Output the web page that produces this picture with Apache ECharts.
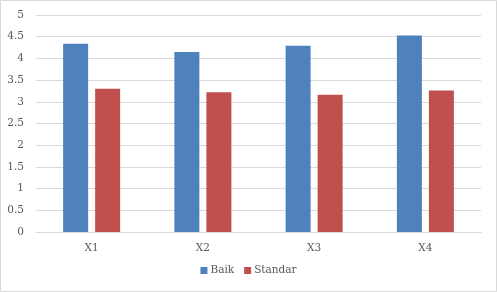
<!DOCTYPE html>
<html><head><meta charset="utf-8">
<script src="https://cdn.jsdelivr.net/npm/echarts@6/dist/echarts.min.js"></script>
<style>html,body{margin:0;padding:0;background:#fff}#c{width:497px;height:292px}</style>
</head><body><div id="c"></div>
<script>
const categories = ['X1','X2','X3','X4'];
const baik = [4.34, 4.15, 4.29, 4.53];
const standar = [3.30, 3.22, 3.16, 3.26];
const yTicks = [0,0.5,1,1.5,2,2.5,3,3.5,4,4.5,5];

const chart = echarts.init(document.getElementById('c'), null, {renderer:'canvas'});
const font = 'DejaVu Serif';
chart.setOption({
  animation:false,
  backgroundColor:'#fff',
  graphic:[{type:'rect',shape:{x:0.5,y:0.5,width:496,height:291},style:{fill:'none',stroke:'#D9D9D9',lineWidth:1},silent:true}],
  grid:{left:36,right:16,top:15,bottom:60,containLabel:false},
  legend:{bottom:11,left:'center',itemWidth:7,itemHeight:7,itemGap:10,icon:'rect',
    textStyle:{fontFamily:font,fontSize:10.5,color:'#595959',padding:[0,0,0,-2]},
    data:['Baik','Standar']},
  xAxis:{type:'category',data:categories,
    axisLine:{lineStyle:{color:'#D9D9D9'}},axisTick:{show:false},
    axisLabel:{fontFamily:font,fontSize:10.5,color:'#595959',margin:11}},
  yAxis:{type:'value',min:0,max:5,interval:0.5,
    axisLine:{show:false},axisTick:{show:false},
    splitLine:{lineStyle:{color:'#D9D9D9'}},
    axisLabel:{fontFamily:font,fontSize:10.5,color:'#595959',margin:12,
      formatter:v=>{const t=yTicks.find(x=>Math.abs(x-v)<1e-9);return t===undefined?'':String(t);}}},
  series:[
    {name:'Baik',type:'bar',data:baik,barWidth:25,barGap:'28%',itemStyle:{color:'#4F81BD'}},
    {name:'Standar',type:'bar',data:standar,barWidth:25,barGap:'28%',itemStyle:{color:'#C0504D'}}
  ]
});
</script></body></html>
